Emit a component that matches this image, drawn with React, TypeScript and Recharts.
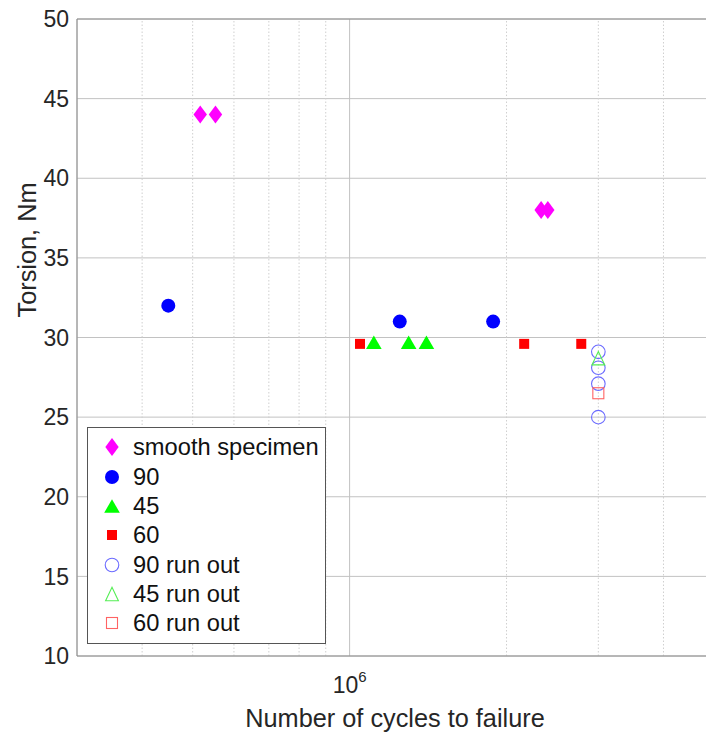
import React from 'react';
import { ScatterChart, Scatter, XAxis, YAxis, CartesianGrid, ReferenceLine } from 'recharts';

// values (x = cycles, y = torsion in Nm)
const smoothX = [5.17e5, 5.53e5, 2.33e6, 2.4e6];
const smoothY = [44, 44, 38, 38];
const deg90X = [4.49e5, 1.248e6, 1.885e6];
const deg90Y = [32, 31, 31];
const deg45X = [1.113e6, 1.298e6, 1.404e6];
const deg45Y = [29.7, 29.7, 29.7];
const deg60X = [1.047e6, 2.162e6, 2.782e6];
const deg60Y = [29.6, 29.6, 29.6];
const runOut90X = [3e6, 3e6, 3e6, 3e6];
const runOut90Y = [29.1, 28.1, 27.1, 25];
const runOut45X = [3e6];
const runOut45Y = [28.7];
const runOut60X = [3e6];
const runOut60Y = [26.5];

const yTicks = [10, 15, 20, 25, 30, 35, 40, 45, 50];
const xTicks = [1e6];
const xMinorTicks = [4e5, 5e5, 6e5, 7e5, 8e5, 9e5, 2e6, 3e6, 4e6];

type Kind = 'diamond' | 'circle' | 'triangle' | 'square';

interface SeriesDef {
  name: string;
  xs: number[];
  ys: number[];
  kind: Kind;
  color: string;
  filled: boolean;
}

const series: SeriesDef[] = [
  { name: 'smooth specimen', xs: smoothX, ys: smoothY, kind: 'diamond', color: '#ff00ff', filled: true },
  { name: '90', xs: deg90X, ys: deg90Y, kind: 'circle', color: '#0000ff', filled: true },
  { name: '45', xs: deg45X, ys: deg45Y, kind: 'triangle', color: '#00ff00', filled: true },
  { name: '60', xs: deg60X, ys: deg60Y, kind: 'square', color: '#ff0000', filled: true },
  { name: '90 run out', xs: runOut90X, ys: runOut90Y, kind: 'circle', color: '#6b6bff', filled: false },
  { name: '45 run out', xs: runOut45X, ys: runOut45Y, kind: 'triangle', color: '#55ee55', filled: false },
  { name: '60 run out', xs: runOut60X, ys: runOut60Y, kind: 'square', color: '#ff6363', filled: false },
];

const FONT = '"Liberation Sans", Arial, Helvetica, sans-serif';

const Marker = ({ kind, color, filled, cx, cy }: { kind: Kind; color: string; filled: boolean; cx: number; cy: number }) => {
  const fill = filled ? color : 'none';
  const stroke = filled ? 'none' : color;
  if (kind === 'diamond') {
    return <polygon points={`${cx},${cy - 9} ${cx + 6.7},${cy} ${cx},${cy + 9} ${cx - 6.7},${cy}`} fill={fill} stroke={stroke} />;
  }
  if (kind === 'circle') {
    return <circle cx={cx} cy={cy} r={filled ? 7 : 6.8} fill={fill} stroke={stroke} strokeWidth={1.1} />;
  }
  if (kind === 'triangle') {
    const w = filled ? 7.8 : 6.4;
    const h = 6.7;
    return <polygon points={`${cx},${cy - h} ${cx + w},${cy + h} ${cx - w},${cy + h}`} fill={fill} stroke={stroke} strokeWidth={1.1} />;
  }
  const s = filled ? 5 : 5.5;
  return <rect x={cx - s} y={cy - s} width={s * 2} height={s * 2} fill={fill} stroke={stroke} strokeWidth={1.1} />;
};

const XTick = ({ x, y }: any) => (
  <text x={x} y={y} dy={29} textAnchor="middle" fill="#262626" fontSize={23} fontFamily={FONT}>
    <tspan>10</tspan>
    <tspan dy={-11} fontSize={15}>6</tspan>
  </text>
);

const LegendBox = () => (
  <div
    style={{
      position: 'absolute',
      left: 87,
      top: 427,
      width: 239,
      height: 217,
      boxSizing: 'border-box',
      border: '1px solid #555',
      background: '#fff',
    }}
  >
    {series.map((s, i) => (
      <div
        key={s.name}
        style={{ position: 'absolute', left: 0, top: 19.4 + i * 29.3 - 14, height: 28, width: '100%', display: 'flex', alignItems: 'center' }}
      >
        <svg width={40} height={28} style={{ position: 'absolute', left: 4 }}>
          <Marker kind={s.kind} color={s.color} filled={s.filled} cx={20} cy={14} />
        </svg>
        <span style={{ position: 'absolute', left: 45, fontSize: 23.7, fontFamily: FONT, color: '#111', whiteSpace: 'nowrap', lineHeight: '28px' }}>
          {s.name}
        </span>
      </div>
    ))}
  </div>
);

const App = () => (
  <div style={{ position: 'absolute', left: 0, top: 0, width: 706, height: 736, overflow: 'hidden', background: '#fff' }}>
    <ScatterChart width={720} height={736} margin={{ top: 19, right: 6, bottom: 30, left: 0 }}>
      <CartesianGrid stroke="#c2c2c2" />
      {xMinorTicks.map((v) => (
        <ReferenceLine key={v} x={v} stroke="#cfcfcf" strokeDasharray="1.5 2" />
      ))}
      <ReferenceLine y={50} stroke="#8c8c8c" />
      <XAxis
        type="number"
        dataKey="x"
        scale="log"
        domain={[3e5, 5e6]}
        allowDataOverflow
        ticks={xTicks}
        tickLine={false}
        tick={<XTick />}
        axisLine={{ stroke: '#8c8c8c' }}
        height={50}
      />
      <YAxis
        type="number"
        dataKey="y"
        domain={[10, 50]}
        allowDataOverflow
        ticks={yTicks}
        tickLine={false}
        tickMargin={2}
        width={77}
        axisLine={{ stroke: '#8c8c8c' }}
        tick={{ fill: '#262626', fontSize: 23, fontFamily: FONT }}
      />
      {series.map((s) => (
        <Scatter
          key={s.name}
          name={s.name}
          data={s.xs.map((x, i) => ({ x, y: s.ys[i] }))}
          isAnimationActive={false}
          shape={(p: any) => <Marker kind={s.kind} color={s.color} filled={s.filled} cx={p.cx} cy={p.cy} />}
        />
      ))}
    </ScatterChart>
    <LegendBox />
    <div
      style={{
        position: 'absolute',
        left: 395,
        top: 718,
        transform: 'translate(-50%, -50%)',
        fontSize: 25.3,
        fontFamily: FONT,
        color: '#262626',
        whiteSpace: 'nowrap',
      }}
    >
      Number of cycles to failure
    </div>
    <div
      style={{
        position: 'absolute',
        left: 27,
        top: 250,
        transform: 'translate(-50%, -50%) rotate(-90deg)',
        fontSize: 25.3,
        fontFamily: FONT,
        color: '#262626',
        whiteSpace: 'nowrap',
      }}
    >
      Torsion, Nm
    </div>
  </div>
);

export default App;
